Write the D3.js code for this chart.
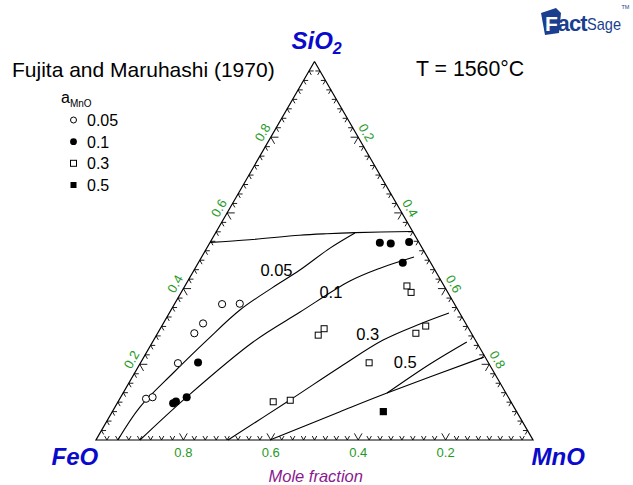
<!DOCTYPE html>
<html>
<head>
<meta charset="utf-8">
<script src="https://cdn.jsdelivr.net/npm/d3@7"></script>
<style>
  html, body { margin: 0; padding: 0; background: #fff; }
  svg { display: block; font-family: "Liberation Sans", Arial, Helvetica, sans-serif; }
</style>
</head>
<body>
<svg id="chart" width="633" height="485"></svg>
<script>
// ---- Data (compositions as [x(SiO2), x(MnO)], x(FeO) = 1 - both) ----
const components = ["SiO2", "FeO", "MnO"];
const tickLabels = [0.2, 0.4, 0.6, 0.8];
const legendLabels = ["0.05", "0.1", "0.3", "0.5"];
const curveLabels = ["0.05", "0.1", "0.3", "0.5"];

// experimental points (Fujita and Maruhashi, 1970)
const pointsA005 = [[0.109, 0.060], [0.113, 0.073], [0.203, 0.086], [0.282, 0.084],
                    [0.308, 0.091], [0.359, 0.109], [0.360, 0.149]];
const pointsA01  = [[0.521, 0.389], [0.519, 0.415], [0.523, 0.455], [0.468, 0.468],
                    [0.205, 0.131], [0.097, 0.128], [0.102, 0.132], [0.113, 0.151]];
const pointsA03  = [[0.277, 0.370], [0.294, 0.375], [0.407, 0.508], [0.390, 0.526],
                    [0.301, 0.604], [0.282, 0.591], [0.204, 0.523], [0.101, 0.355],
                    [0.105, 0.392]];
const pointsA05  = [[0.075, 0.620]];

// calculated iso-activity lines and phase boundaries
const boundarySiO2 = [[0.522, 0.000], [0.529, 0.087], [0.541, 0.195], [0.545, 0.255],
                      [0.548, 0.320], [0.551, 0.448]];
const curveA005 = [[0.547, 0.319], [0.507, 0.282], [0.449, 0.242], [0.402, 0.202],
                   [0.344, 0.158], [0.264, 0.122], [0.177, 0.088], [0.087, 0.057],
                   [0.000, 0.050]];
const curveA01  = [[0.4835, 0.486], [0.454, 0.423], [0.420, 0.371], [0.338, 0.298],
                   [0.259, 0.230], [0.114, 0.151], [0.000, 0.1007]];
const curveA03  = [[0.3355, 0.640], [0.3065, 0.588], [0.264, 0.525], [0.193, 0.462],
                   [0.1057, 0.391], [0.000, 0.302]];
const curveA05  = [[0.259, 0.719], [0.2008, 0.664], [0.124, 0.604]];
const boundaryMnO = [[0.219, 0.778], [0.124, 0.604], [0.0748, 0.521], [0.000, 0.398]];

// ---- Scales ----
const svg = d3.select("#chart");
const H = Math.sqrt(3) / 2;
const xScale = d3.scaleLinear().domain([0, 1]).range([96, 533]);
const yScale = d3.scaleLinear().domain([0, H]).range([440, 61.5]);
const px = d => xScale(d[1] + d[0] / 2);
const py = d => yScale(d[0] * H);

const blue = "#0a0acc", green = "#1f9a1f", purple = "#8a1a8e";

// ---- Triangle frame ----
const frame = [[1, 0], [0, 0], [0, 1], [1, 0]];
svg.append("path")
  .attr("d", d3.line().x(px).y(py)(frame))
  .attr("fill", "none").attr("stroke", "#000").attr("stroke-width", 1.2)
  .attr("stroke-linejoin", "miter");

// ---- Ticks (chevrons along composition directions) ----
const tickG = svg.append("g").attr("stroke", "#000").attr("stroke-width", 0.9).attr("fill", "none");
const tickSeg = [];
for (let i = 1; i < 40; i++) {
  const t = i * 0.025;
  const d = (i % 8 === 0) ? 0.0175 : 0.0105;
  tickSeg.push([[d, t], [0, t], [d, t - d]]);            // bottom edge
  tickSeg.push([[t, d], [t, 0], [t - d, d]]);            // left edge
  tickSeg.push([[t, 1 - t - d], [t, 1 - t], [t - d, 1 - t]]); // right edge
}
tickG.selectAll("path").data(tickSeg).join("path")
  .attr("d", d3.line().x(px).y(py));

// ---- Tick labels ----
const lblG = svg.append("g").attr("fill", green).attr("font-size", 13);
lblG.selectAll("text.b").data(tickLabels).join("text").attr("class", "b")
  .attr("x", v => px([0, 1 - v])).attr("y", 457)
  .attr("text-anchor", "middle").text(v => v.toFixed(1));
lblG.selectAll("text.l").data(tickLabels).join("text").attr("class", "l")
  .attr("transform", v => {
    const x = px([v, 0]) - 0.866 * 9.5, y = py([v, 0]) - 0.5 * 9.5;
    return `translate(${x},${y}) rotate(-60)`;
  })
  .attr("text-anchor", "middle").attr("dy", "0.35em").text(v => v.toFixed(1));
lblG.selectAll("text.r").data(tickLabels).join("text").attr("class", "r")
  .attr("transform", v => {
    const x = px([1 - v, v]) + 0.866 * 9.5, y = py([1 - v, v]) - 0.5 * 9.5;
    return `translate(${x},${y}) rotate(60)`;
  })
  .attr("text-anchor", "middle").attr("dy", "0.35em").text(v => v.toFixed(1));

// ---- Curves ----
const curveLine = d3.line().x(px).y(py).curve(d3.curveCatmullRom.alpha(0.5));
const curves = [boundarySiO2, curveA005, curveA01, curveA03, curveA05, boundaryMnO];
svg.append("g").selectAll("path").data(curves).join("path")
  .attr("d", curveLine).attr("fill", "none").attr("stroke", "#000").attr("stroke-width", 1.1);

const curveLabelPos = [[0.448, 0.189], [0.391, 0.342], [0.280, 0.482], [0.205, 0.605]];
svg.append("g").selectAll("text").data(curveLabels).join("text")
  .attr("x", (d, i) => px(curveLabelPos[i])).attr("y", (d, i) => py(curveLabelPos[i]))
  .attr("text-anchor", "middle").attr("dy", "0.35em")
  .attr("font-size", 16.5).attr("fill", "#000").text(d => d);

// ---- Markers ----
const mk = svg.append("g");
mk.selectAll("circle.o").data(pointsA005).join("circle").attr("class", "o")
  .attr("cx", px).attr("cy", py).attr("r", 3.6)
  .attr("fill", "#fff").attr("stroke", "#000").attr("stroke-width", 1);
mk.selectAll("circle.f").data(pointsA01).join("circle").attr("class", "f")
  .attr("cx", px).attr("cy", py).attr("r", 4).attr("fill", "#000");
mk.selectAll("rect.o").data(pointsA03).join("rect").attr("class", "o")
  .attr("x", d => px(d) - 3).attr("y", d => py(d) - 3).attr("width", 6).attr("height", 6)
  .attr("fill", "#fff").attr("stroke", "#000").attr("stroke-width", 1);
mk.selectAll("rect.f").data(pointsA05).join("rect").attr("class", "f")
  .attr("x", d => px(d) - 3.6).attr("y", d => py(d) - 3.6).attr("width", 7.2).attr("height", 7.2)
  .attr("fill", "#000");

// ---- Vertex labels ----
const vtx = svg.append("g").attr("fill", blue).attr("font-weight", "bold")
  .attr("font-style", "italic").attr("font-size", 24);
const sio2 = vtx.append("text").attr("x", 291.5).attr("y", 48.5);
sio2.append("tspan").text("SiO");
sio2.append("tspan").attr("font-size", 16).attr("dy", 5).text("2");
vtx.append("text").attr("x", 51.5).attr("y", 465).text("FeO");
vtx.append("text").attr("x", 531.5).attr("y", 465).text("MnO");

svg.append("text").attr("x", 268.5).attr("y", 481.5).attr("font-style", "italic")
  .attr("font-size", 16.5).attr("fill", purple).text("Mole fraction");

// ---- Titles ----
svg.append("text").attr("x", 12).attr("y", 77).attr("font-size", 21).attr("fill", "#000")
  .text("Fujita and Maruhashi (1970)");
svg.append("text").attr("x", 416).attr("y", 75.5).attr("font-size", 21.3).attr("fill", "#000")
  .text("T = 1560°C");

// ---- Legend ----
const lg = svg.append("g");
const aT = lg.append("text").attr("x", 61).attr("y", 103.3).attr("font-size", 16);
aT.append("tspan").text("a");
aT.append("tspan").attr("font-size", 10).attr("dy", 4).text("MnO");
const legY = [120, 141.7, 163.3, 185];
lg.append("circle").attr("cx", 73.5).attr("cy", legY[0]).attr("r", 3)
  .attr("fill", "#fff").attr("stroke", "#000").attr("stroke-width", 1);
lg.append("circle").attr("cx", 73.5).attr("cy", legY[1]).attr("r", 3.4).attr("fill", "#000");
lg.append("rect").attr("x", 70.5).attr("y", legY[2] - 3).attr("width", 6).attr("height", 6)
  .attr("fill", "#fff").attr("stroke", "#000").attr("stroke-width", 1);
lg.append("rect").attr("x", 70.5).attr("y", legY[3] - 3).attr("width", 6).attr("height", 6)
  .attr("fill", "#000");
lg.selectAll("text.lab").data(legendLabels).join("text").attr("class", "lab")
  .attr("x", 87).attr("y", (d, i) => legY[i] + 6).attr("font-size", 16).text(d => d);

// ---- FactSage logo ----
const logo = svg.append("g");
logo.append("path").attr("d", "M541,13 L556,8 L561,13 L559,33 L545,35 Z").attr("fill", "#1b3f8f");
logo.append("text").attr("x", 545).attr("y", 31).attr("font-size", 21).attr("font-weight", "bold")
  .attr("fill", "#fff").text("F");
logo.append("text").attr("x", 557.5).attr("y", 31).attr("font-size", 22).attr("font-weight", "bold")
  .attr("fill", "#1b3f8f").attr("letter-spacing", -0.8).text("act");
logo.append("text").attr("x", 587).attr("y", 30).attr("font-size", 17)
  .attr("fill", "#1b3f8f").attr("textLength", 34).attr("lengthAdjust", "spacingAndGlyphs")
  .text("Sage");
logo.append("text").attr("x", 621.5).attr("y", 9).attr("font-size", 5.5)
  .attr("fill", "#1b3f8f").text("TM");
</script>
</body>
</html>
